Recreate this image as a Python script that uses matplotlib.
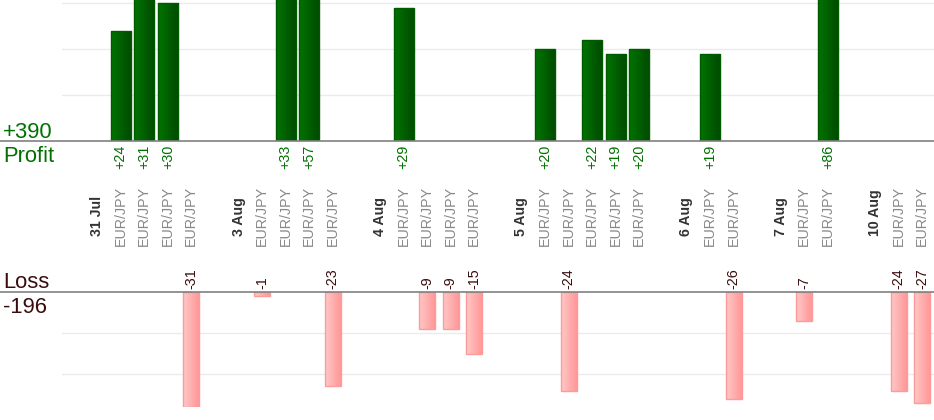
import numpy as np
import matplotlib
matplotlib.use("Agg")
import matplotlib.pyplot as plt
from matplotlib.colors import LinearSegmentedColormap
from matplotlib.lines import Line2D
from matplotlib.transforms import blended_transform_factory

plt.rcParams["font.family"] = ["Liberation Sans", "DejaVu Sans"]

# one slot per column; dates head each day, blank slot between days
slot_labels = ["31 Jul", "EUR/JPY", "EUR/JPY", "EUR/JPY", "EUR/JPY", "",
               "3 Aug", "EUR/JPY", "EUR/JPY", "EUR/JPY", "EUR/JPY", "",
               "4 Aug", "EUR/JPY", "EUR/JPY", "EUR/JPY", "EUR/JPY", "",
               "5 Aug", "EUR/JPY", "EUR/JPY", "EUR/JPY", "EUR/JPY", "EUR/JPY", "",
               "6 Aug", "EUR/JPY", "EUR/JPY", "",
               "7 Aug", "EUR/JPY", "EUR/JPY", "",
               "10 Aug", "EUR/JPY", "EUR/JPY"]
date_labels = ["31 Jul", "3 Aug", "4 Aug", "5 Aug", "6 Aug", "7 Aug", "10 Aug"]

profit_slots = [1, 2, 3, 8, 9, 13, 19, 21, 22, 23, 26, 31]
profit_vals = [24, 31, 30, 33, 57, 29, 20, 22, 19, 20, 19, 86]
loss_slots = [4, 7, 10, 14, 15, 16, 20, 27, 30, 34, 35]
loss_vals = [-31, -1, -23, -9, -9, -15, -24, -26, -7, -24, -27]

total_profit = sum(profit_vals)
total_loss = sum(loss_vals)

W, H = 934, 420
fig = plt.figure(figsize=(W / 100, H / 100), dpi=100)

def px(x, y, w, h):
    return [x / W, (H - y - h) / H, w / W, h / H]

ax_p = fig.add_axes(px(61.7, 0, W - 61.7, 141))
ax_l = fig.add_axes(px(61.7, 292.3, W - 61.7, 115.0))

P_LIM = (0, 30.65)
L_LIM = (-28.1, 0)

green_cm = LinearSegmentedColormap.from_list("g", ["#007400", "#004a00"])
pink_cm = LinearSegmentedColormap.from_list("p", ["#ffc8c8", "#ff9494"])
grad = np.linspace(0, 1, 64).reshape(1, -1)

def gradient_bars(ax, xs, vals, width, cmap, edge, lim):
    lo, hi = lim
    # bars that run past the plot end at its edge, border and all
    shown = np.clip(vals, lo + 0.12, hi + 2)
    bars = ax.bar(xs, shown, width=width, color="none", edgecolor=edge, linewidth=1, zorder=3)
    for b in bars:
        x0, y0 = b.get_x(), b.get_y()
        im = ax.imshow(grad, cmap=cmap, aspect="auto", zorder=2,
                       extent=(x0, x0 + b.get_width(), y0, y0 + b.get_height()))
        im.set_clip_path(b)
    return bars

for ax in (ax_p, ax_l):
    for s in ax.spines.values():
        s.set_visible(False)
    ax.set_xticks([])
    ax.set_yticks([])
    ax.set_facecolor("none")

for g in (10, 20, 30):
    ax_p.axhline(g, color="#ebebeb", lw=1, zorder=1)
for g in (-10, -20):
    ax_l.axhline(g, color="#ebebeb", lw=1, zorder=1)

gradient_bars(ax_p, profit_slots, profit_vals, 0.85, green_cm, "#005a00", P_LIM)
gradient_bars(ax_l, loss_slots, loss_vals, 0.68, pink_cm, "#ff9a9a", L_LIM)
ax_p.set_ylim(*P_LIM)
ax_l.set_ylim(*L_LIM)
ax_p.set_xlim(-1.5, 35.5)
ax_l.set_xlim(-1.5, 35.5)

# baselines across the full width
for y in (141, 292.3):
    fig.add_artist(Line2D([0, 1], [(H - y) / H] * 2, color="#808080", lw=1.2))

tr = blended_transform_factory(ax_p.transData, fig.transFigure)

for x, v in zip(profit_slots, profit_vals):
    fig.text(x, (H - 145) / H, f"+{v}", transform=tr, rotation=90, ha="center",
             va="top", fontsize=10.3, color="#007000")
for x, v in zip(loss_slots, loss_vals):
    fig.text(x, (H - 289) / H, f"{v}", transform=tr, rotation=90, ha="center",
             va="bottom", fontsize=10.3, color="#3a0c0c")

for i, lab in enumerate(slot_labels):
    if not lab:
        continue
    if lab in date_labels:
        fig.text(i, (H - 236) / H, lab, transform=tr, rotation=90, ha="center",
                 va="bottom", fontsize=10.2, fontweight="bold", color="#333333")
    else:
        fig.text(i, (H - 246) / H, lab, transform=tr, rotation=90, ha="center",
                 va="bottom", fontsize=10.3, color="#888888")

fig.text(3 / W, (H - 138) / H, f"+{total_profit}", fontsize=15.8, color="#007000", va="baseline")
fig.text(3 / W, (H - 162) / H, "Profit", fontsize=15.8, color="#007000", va="baseline")
fig.text(3 / W, (H - 288) / H, "Loss", fontsize=15.8, color="#3a0c0c", va="baseline")
fig.text(3 / W, (H - 313) / H, f"{total_loss}", fontsize=15.8, color="#3a0c0c", va="baseline")

fig.savefig("out.png", dpi=100)
